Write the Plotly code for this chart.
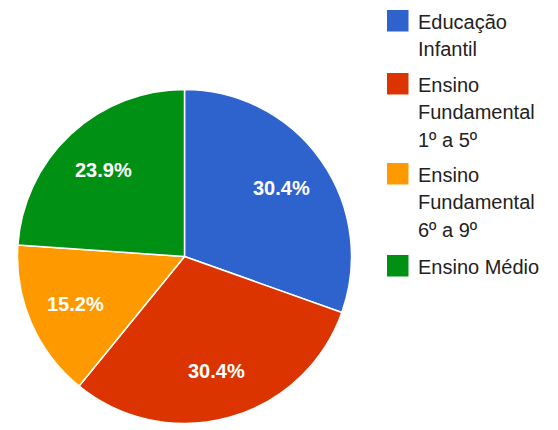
import math
import plotly.graph_objects as go

categories = ["Educação<br>Infantil", "Ensino<br>Fundamental<br>1º a 5º", "Ensino<br>Fundamental<br>6º a 9º", "Ensino Médio"]
values = [14, 14, 7, 11]
colors = ["#2E63CE", "#DC3400", "#FF9900", "#009114"]

W, H = 558, 430
cx, cy, R = 184.5, 256.5, 167
FONT = "Liberation Sans, Arial, Helvetica, sans-serif"

fig = go.Figure(go.Pie(
    labels=categories,
    values=values,
    sort=False,
    direction="clockwise",
    rotation=0,
    marker=dict(colors=colors, line=dict(color="white", width=1.5)),
    textinfo="none",
    domain=dict(x=[(cx - R) / W, (cx + R) / W], y=[(H - cy - R) / H, (H - cy + R) / H]),
    hoverinfo="label+percent",
    showlegend=False,
))

# percentage labels placed at ~71% of the radius, on each slice's mid-angle
total = sum(values)
cum = 0.0
for v in values:
    mid = (cum + v / 2) / total * 2 * math.pi
    cum += v
    rt = 0.71 * R
    px = cx + rt * math.sin(mid)
    py = cy - rt * math.cos(mid)
    fig.add_annotation(
        x=px / W, y=(H - py) / H, xref="paper", yref="paper",
        text=f"<b>{v / total * 100:.1f}%</b>", showarrow=False,
        font=dict(family=FONT, size=20, color="white"),
        xanchor="center", yanchor="middle",
    )

# legend: squares + wrapped labels (one annotation per line)
sq_tops = [10, 73, 163, 255]
sq = 21.5
line_gap = 27.5
for name, col, top in zip(categories, colors, sq_tops):
    fig.add_shape(type="rect", xref="paper", yref="paper",
                  x0=387 / W, x1=(387 + sq) / W,
                  y0=(H - top - sq) / H, y1=(H - top) / H,
                  fillcolor=col, line=dict(width=0))
    for i, line in enumerate(name.split("<br>")):
        yc = top + sq / 2 + i * line_gap + 1.0
        fig.add_annotation(
            x=416 / W, y=(H - yc) / H, xref="paper", yref="paper",
            text=line, showarrow=False, align="left",
            xanchor="left", yanchor="middle",
            font=dict(family=FONT, size=20, color="#222222"),
        )

fig.update_layout(
    width=W, height=H,
    margin=dict(l=0, r=0, t=0, b=0),
    paper_bgcolor="white",
    font=dict(family=FONT, color="#222222", size=20),
    showlegend=False,
)

fig.write_html("out.html", config={"displayModeBar": False},
               post_script="document.body.style.margin='0';")
